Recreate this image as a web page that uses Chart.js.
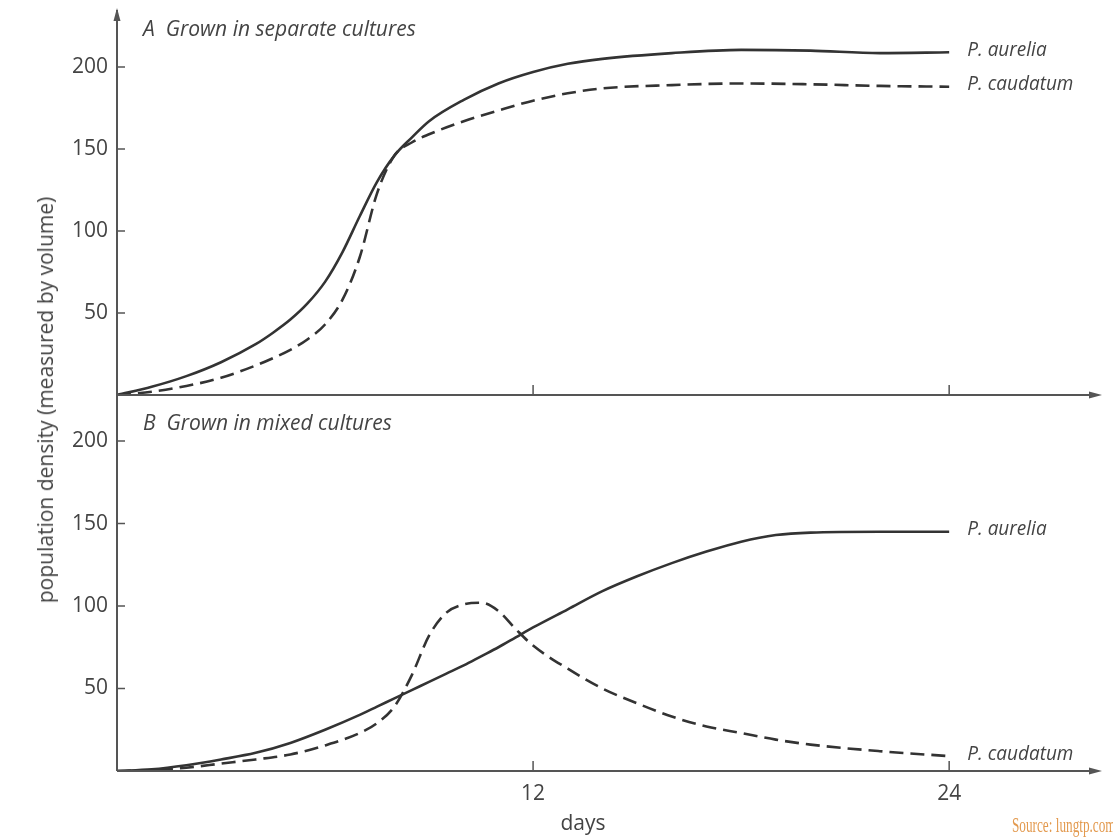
<!DOCTYPE html>
<html lang="en">
<head>
  <meta charset="UTF-8" />
  <title>P. aurelia and P. caudatum cultures</title>
  <style>
    body {
      margin: 0;
      background: #fff;
      font-family: 'Open Sans', 'Noto Sans', sans-serif;
    }
    #wrap {
      position: relative;
      width: 1113px;
      height: 839px;
      overflow: hidden;
    }
    canvas {
      position: absolute;
      left: 0;
    }
    #chartA { top: 0; }
    #chartB { top: 395px; }
    #ytitle {
      position: absolute;
      left: 45px;
      top: 400px;
      transform: translate(-50%, -50%) rotate(-90deg);
      white-space: nowrap;
      font-size: 21px;
      color: #444;
    }
    #xtitle {
      position: absolute;
      left: 583px;
      top: 822px;
      transform: translate(-50%, -50%);
      font-size: 21px;
      color: #444;
    }
    #source {
      position: absolute;
      left: 1012px;
      top: 813px;
      font-family: 'Liberation Serif', 'DejaVu Serif', serif;
      font-size: 21px;
      color: #e39a4f;
      white-space: nowrap;
      transform: scaleX(0.63);
      transform-origin: left center;
    }
  </style>
</head>
<body>
  <div id="wrap">
    <canvas id="chartA" width="1113" height="400"></canvas>
    <canvas id="chartB" width="1113" height="444"></canvas>
    <div id="ytitle">population density (measured by volume)</div>
    <div id="xtitle">days</div>
    <div id="source">Source: lungtp.com</div>
  </div>

  <script src="https://cdn.jsdelivr.net/npm/chart.js"></script>
  <script>
    // A: grown in separate cultures
    const sepDays     = [0, 1, 2, 3, 4, 4.5, 5, 5.5, 6, 6.5, 7, 7.5, 8, 8.5, 9, 10, 11, 12, 13, 14, 16, 18, 20, 22, 24];
    const sepAurelia  = [0, 5, 11.5, 20, 31, 38, 46, 56, 69, 87, 109, 130, 146, 157, 167, 180, 190, 197, 202, 205, 208.5, 210.5, 210, 208.5, 209];
    const sepCaudatum = [0, 2, 5.5, 10.5, 18, 22.5, 27.5, 34, 43, 58, 84, 123, 146, 154, 159, 167, 173.5, 179.5, 184, 187, 189, 190, 189.5, 188.5, 188];

    // B: grown in mixed cultures
    const mixDays     = [0, 1, 2, 3, 4, 5, 6, 7, 7.5, 8, 8.5, 9, 9.5, 10, 10.5, 11, 11.5, 12, 13, 14, 15, 16, 17, 18, 19, 20, 22, 24];
    const mixAurelia  = [0, 1, 3.5, 7, 11, 17, 25, 34, 39, 44, 49, 54, 59, 64, 69.5, 75, 81, 87, 98, 109, 118, 126, 133, 139, 143, 144.5, 145, 145];
    const mixCaudatum = [0, 0.5, 2, 4.5, 7, 10, 15.5, 23, 29, 39, 58, 82, 96, 101, 102, 97, 86, 76, 62, 50, 41, 33, 27, 23, 19, 16, 12, 9];

    const yTicks = [50, 100, 150, 200];
    const xTicks = [12, 24];
    const seriesNames = ['P. aurelia', 'P. caudatum'];
    const panelTitles = ['A  Grown in separate cultures', 'B  Grown in mixed cultures'];

    const FONT = "'Open Sans', 'Noto Sans', sans-serif";
    const INK = '#333';
    Chart.defaults.font.family = FONT;
    Chart.defaults.color = '#444';

    // axes with arrows, inward tick marks, panel title and end-of-line labels
    const panelDecor = {
      id: 'panelDecor',
      afterDraw(chart, args, opts) {
        const { ctx, chartArea: a, scales: { x, y } } = chart;
        ctx.save();
        ctx.strokeStyle = '#555';
        ctx.fillStyle = '#555';
        ctx.lineWidth = 2;

        ctx.beginPath();
        ctx.moveTo(a.left, a.bottom);
        ctx.lineTo(a.left, a.top);
        ctx.moveTo(a.left, a.bottom);
        ctx.lineTo(a.right - 4, a.bottom);
        ctx.stroke();

        if (opts.arrowTop) {
          ctx.beginPath();
          ctx.moveTo(a.left, a.top - 2);
          ctx.lineTo(a.left - 3.5, a.top + 11);
          ctx.lineTo(a.left + 3.5, a.top + 11);
          ctx.closePath();
          ctx.fill();
        }
        ctx.beginPath();
        ctx.moveTo(a.right + 2, a.bottom);
        ctx.lineTo(a.right - 11, a.bottom - 3.5);
        ctx.lineTo(a.right - 11, a.bottom + 3.5);
        ctx.closePath();
        ctx.fill();

        ctx.lineWidth = 1.5;
        ctx.beginPath();
        yTicks.forEach(v => {
          const py = y.getPixelForValue(v);
          ctx.moveTo(a.left, py);
          ctx.lineTo(a.left + 8, py);
        });
        xTicks.forEach(v => {
          const px = x.getPixelForValue(v);
          ctx.moveTo(px, a.bottom);
          ctx.lineTo(px, a.bottom - 10);
        });
        ctx.stroke();

        ctx.fillStyle = '#444';
        ctx.textBaseline = 'middle';
        ctx.textAlign = 'left';
        ctx.font = 'italic 21px ' + FONT;
        ctx.fillText(opts.title, 143, opts.titleY);

        ctx.font = 'italic 20px ' + FONT;
        chart.data.datasets.forEach((ds, i) => {
          const pts = chart.getDatasetMeta(i).data;
          const last = pts[pts.length - 1];
          ctx.save();
          ctx.translate(last.x + 18, last.y - 2);
          ctx.scale(0.95, 1);
          ctx.fillText(ds.label, 0, 0);
          ctx.restore();
        });
        ctx.restore();
      }
    };

    function makePanel(id, days, aurelia, caudatum, opts) {
      const toPts = vals => vals.map((v, i) => ({ x: days[i], y: v }));
      return new Chart(document.getElementById(id), {
        type: 'line',
        data: {
          datasets: [
            {
              label: seriesNames[0],
              data: toPts(aurelia),
              borderColor: INK,
              borderWidth: 2.6,
              pointRadius: 0,
              cubicInterpolationMode: 'monotone'
            },
            {
              label: seriesNames[1],
              data: toPts(caudatum),
              borderColor: INK,
              borderWidth: 2.6,
              borderDash: [14, 7],
              pointRadius: 0,
              cubicInterpolationMode: 'monotone'
            }
          ]
        },
        options: {
          responsive: false,
          animation: false,
          layout: { padding: { left: 0, right: 13, top: opts.padTop, bottom: 0 } },
          plugins: {
            legend: { display: false },
            tooltip: { enabled: false },
            panelDecor: { title: opts.title, titleY: opts.titleY, arrowTop: opts.arrowTop }
          },
          scales: {
            x: {
              type: 'linear',
              min: 0,
              max: 28.35,
              grid: { display: false, drawTicks: false },
              border: { display: false },
              ticks: { display: opts.xLabels, padding: 10, font: { size: 21 }, color: '#444' },
              afterBuildTicks: s => { s.ticks = xTicks.map(v => ({ value: v })); },
              afterFit: s => {
                s.height = opts.xHeight;
                s.paddingLeft = 0;
                s.paddingRight = 0;
              }
            },
            y: {
              type: 'linear',
              min: 0,
              max: opts.yMax,
              grid: { display: false, drawTicks: false },
              border: { display: false },
              ticks: { padding: 9, font: { size: 21 }, color: '#444' },
              afterBuildTicks: s => { s.ticks = yTicks.map(v => ({ value: v })); },
              afterFit: s => {
                s.width = 117;
                s.paddingTop = 0;
                s.paddingBottom = 0;
              }
            }
          }
        },
        plugins: [panelDecor]
      });
    }

    makePanel('chartA', sepDays, sepAurelia, sepCaudatum, {
      title: panelTitles[0], titleY: 30, arrowTop: true,
      padTop: 10, yMax: 234.8, xLabels: false, xHeight: 5
    });
    makePanel('chartB', mixDays, mixAurelia, mixCaudatum, {
      title: panelTitles[1], titleY: 29, arrowTop: false,
      padTop: 0, yMax: 227.9, xLabels: true, xHeight: 68
    });
  </script>
</body>
</html>
